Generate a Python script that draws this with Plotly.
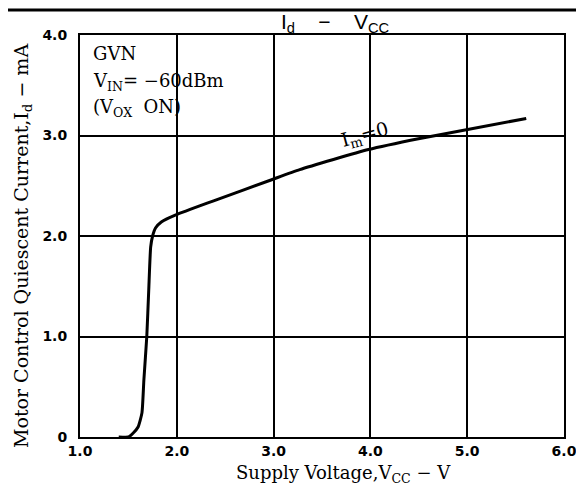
import plotly.graph_objects as go

# Curve data (Supply voltage V, Id mA)
vcc = [1.40, 1.50, 1.55, 1.60, 1.64, 1.66, 1.69, 1.71, 1.73, 1.75, 1.78, 1.84, 1.99, 2.38, 2.98, 3.27, 3.98, 4.51, 4.95, 5.61]
id_ma = [0.0, 0.0, 0.04, 0.10, 0.24, 0.57, 1.00, 1.46, 1.89, 2.00, 2.08, 2.14, 2.21, 2.35, 2.56, 2.66, 2.86, 2.97, 3.05, 3.17]

x_ticks = [1, 2, 3, 4, 5, 6]
x_tick_labels = ["1.0", "2.0", "3.0", "4.0", "5.0", "6.0"]
y_ticks = [0, 1, 2, 3, 4]
y_tick_labels = ["0", "1.0", "2.0", "3.0", "4.0"]

serif = "DejaVu Serif"
sans = "Liberation Sans"
tick_font = dict(family="DejaVu Sans", size=14, color="black", weight="bold")

# page body has an 8px margin: plot area spans x 80..564, y 35..437 in the window
PLOT_TOP, PLOT_BOTTOM, PLOT_LEFT, PLOT_W = 35, 437, 80, 484
PLOT_H = PLOT_BOTTOM - PLOT_TOP


def py(pix):
    return (PLOT_BOTTOM - pix) / PLOT_H


def px(pix):
    return (pix - PLOT_LEFT) / PLOT_W


fig = go.Figure()
fig.add_trace(go.Scatter(x=vcc, y=id_ma, mode="lines",
                         line=dict(color="black", width=3, shape="spline", smoothing=0.5),
                         hoverinfo="skip", showlegend=False))

axis_common = dict(showgrid=True, gridcolor="black", gridwidth=1.5, showline=True,
                   linecolor="black", linewidth=2, mirror=True, ticks="", zeroline=False,
                   tickfont=tick_font)

fig.update_xaxes(range=[1, 6], tickvals=x_ticks, ticktext=x_tick_labels, ticklabelstandoff=0, **axis_common)
fig.update_yaxes(range=[0, 4], tickvals=y_ticks, ticktext=y_tick_labels, ticklabelstandoff=8, **axis_common)

nb = "\u00a0"
annotations = [
    dict(text="I<sub>d</sub>" + nb * 4 + "−" + nb * 4 + "V<sub>CC</sub>", x=px(335), y=py(8.5),
         xref="paper", yref="paper", showarrow=False, font=dict(family=sans, size=21, color="black"),
         xanchor="center", yanchor="top"),
    dict(text="Supply Voltage,V<sub>CC</sub> − V", x=px(343), y=py(474), xref="paper", yref="paper",
         showarrow=False, font=dict(family=serif, size=18, color="black"), xanchor="center", yanchor="middle"),
    dict(text="Motor Control Quiescent Current,I<sub>d</sub> − mA", x=px(22), y=py(246), xref="paper", yref="paper",
         showarrow=False, textangle=-90, font=dict(family=serif, size=19, color="black"),
         xanchor="center", yanchor="middle"),
    dict(text="GVN", x=px(91), y=py(53), xref="paper", yref="paper", showarrow=False,
         font=dict(family=serif, size=18, color="black"), xanchor="left", yanchor="middle"),
    dict(text="V<sub>IN</sub>= −60dBm", x=px(91), y=py(82), xref="paper", yref="paper", showarrow=False,
         font=dict(family=serif, size=18, color="black"), xanchor="left", yanchor="middle"),
    dict(text="(V<sub>OX</sub>" + nb + " ON)", x=px(91), y=py(108), xref="paper", yref="paper", showarrow=False,
         font=dict(family=serif, size=18, color="black"), xanchor="left", yanchor="middle"),
    dict(text="I<sub>m</sub>=0", x=3.94, y=3.0, xref="x", yref="y", showarrow=False, textangle=-15,
         font=dict(family=serif, size=19, color="black"), xanchor="center", yanchor="middle"),
]

fig.update_layout(
    width=584, height=493,
    margin=dict(l=72, r=28, t=27, b=64),
    paper_bgcolor="white", plot_bgcolor="white",
    annotations=annotations,
    shapes=[dict(type="line", xref="paper", yref="paper", x0=-0.2, x1=1.1, y0=py(10), y1=py(10),
                 line=dict(color="black", width=3))],
)

fig.write_html("out.html")
